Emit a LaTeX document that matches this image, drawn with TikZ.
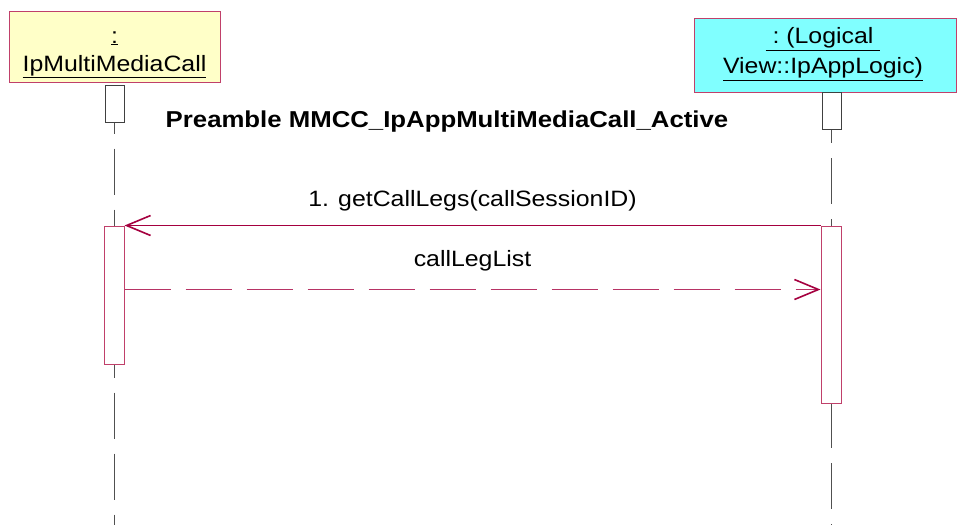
\documentclass[tikz,border=0pt]{standalone}
\usepackage{fontspec}
\setmainfont{Liberation Sans}[FakeStretch=1.12]
\usetikzlibrary{arrows.meta, positioning}
\definecolor{rose}{HTML}{C0406A}
\definecolor{wine}{HTML}{A5003F}
\definecolor{paleyellow}{HTML}{FFFFC8}
\definecolor{aqua}{HTML}{80FFFF}
\definecolor{stem}{HTML}{505050}

\begin{document}
\begin{tikzpicture}[x=1pt, y=-1pt,
    every node/.style={font=\fontsize{22.2}{30}\selectfont, inner sep=0pt, text=black},
    object/.style={draw=rose, line width=1pt},
    head/.style={draw=black!75, fill=white, line width=1pt,
      minimum width=19pt, minimum height=37pt},
    active/.style={draw=rose, fill=white, line width=1pt, minimum width=20pt},
    lifeline/.style={stem, line width=1.1pt, dash pattern=on 46pt off 15pt},
    call/.style={wine, line width=1pt,
      -{Straight Barb[length=24pt, width=20pt, line width=1.6pt]}},
    reply/.style={wine!80, line width=1pt, dash pattern=on 46pt off 15pt,
      -{Straight Barb[length=24pt, width=20pt, line width=1.6pt, color=wine]}}]
  \useasboundingbox (0,0) rectangle (957,525);
  % Objects
  \node[object, fill=paleyellow, minimum width=211pt, minimum height=71pt]
    (objL) at (114.5,46.5) {};
  \node[align=center, font=\fontsize{22.2}{28}\selectfont] (nameL)
    at ([yshift=-8pt]objL.center)
    {\underline{:}\\\underline{IpMultiMediaCall}};
  \node[object, fill=aqua, minimum width=262pt, minimum height=74pt]
    (objR) at (825,55) {};
  \node[align=center] (nameR) at ([xshift=-2pt, yshift=1pt]objR.center)
    {\underline{\ :\ (Logical\ }\\\underline{View::IpAppLogic)}};
  % Lifeline heads
  \node[head] (headL) at (114.5,103.5) {};
  \node[head] (headR) at (831.5,111) {};
  \coordinate (endL) at (114.5,525);
  \coordinate (endR) at (831.5,525);
  \draw[lifeline, dash phase=35pt] (headL.south) -- (endL);
  \draw[lifeline, dash phase=33pt] (headR.south) -- (endR);
  % Activations
  \node[active, minimum height=138pt] (actL) at (114,295) {};
  \node[active, minimum height=177pt] (actR) at (831,314.5) {};
  % Title
  \node[font=\fontsize{23}{26}\selectfont\bfseries] (title) at (447,122)
    {Preamble MMCC\_IpAppMultiMediaCall\_Active};
  % Messages
  \draw[call] (actR.north west) -- (actL.north east)
    node[midway, above=14pt] (msg) {1. getCallLegs(callSessionID)};
  \coordinate (retL) at ([yshift=-64pt]actL.north east);
  \draw[reply] (retL) -- (retL -| actR.west)
    node[midway, above=18pt] (ret) {callLegList};
\end{tikzpicture}
\end{document}
